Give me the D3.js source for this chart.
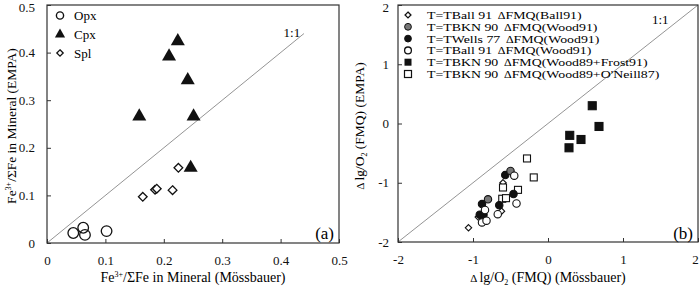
<!DOCTYPE html>
<html><head><meta charset="utf-8">
<script src="https://cdn.jsdelivr.net/npm/d3@7"></script>
<style>body{margin:0;background:#fff}svg{display:block;font-family:"Liberation Serif","Times New Roman",serif}</style>
</head><body><svg id="c" width="700" height="286"></svg>
<script>
// ---- Panel (a) data: [Mössbauer, EMPA] ----
const opx = [[0.045,0.021],[0.062,0.032],[0.065,0.017],[0.102,0.025]];
const cpx = [[0.224,0.424],[0.209,0.392],[0.241,0.342],[0.158,0.266],[0.251,0.266],[0.246,0.158]];
const spl = [[0.164,0.097],[0.185,0.112],[0.188,0.114],[0.215,0.111],[0.225,0.158]];
const aTicks = [0,0.1,0.2,0.3,0.4,0.5];
const aLegend = ["Opx","Cpx","Spl"];

// ---- Panel (b) data: [Mössbauer, EMPA] ----
const bBall91 = [[-1.06,-1.76],[-0.93,-1.58],[-0.62,-1.48],[-0.60,-1.00]];
const bBKN90 = [[-0.50,-0.80],[-0.80,-1.28]];
const bWells77 = [[-0.57,-0.87],[-0.46,-1.19],[-0.65,-1.38],[-0.88,-1.36],[-0.91,-1.54],[-0.86,-1.54]];
const bBall91W = [[-0.45,-0.88],[-0.42,-1.35],[-0.67,-1.53],[-0.84,-1.46],[-0.88,-1.67],[-0.82,-1.64]];
const bFrost = [[0.59,0.30],[0.68,-0.05],[0.29,-0.20],[0.44,-0.27],[0.28,-0.41]];
const bONeill = [[-0.28,-0.59],[-0.19,-0.91],[-0.60,-1.08],[-0.40,-1.12],[-0.61,-1.27],[-0.56,-1.26]];
const bTicks = [-2,-1,0,1,2];
const bLegend = [
  ["T=TBall 91","ΔFMQ(Ball91)"],
  ["T=TBKN 90","ΔFMQ(Wood91)"],
  ["T=TWells 77","ΔFMQ(Wood91)"],
  ["T=TBall 91","ΔFMQ(Wood91)"],
  ["T=TBKN 90","ΔFMQ(Wood89+Frost91)"],
  ["T=TBKN 90","ΔFMQ(Wood89+O'Neill87)"]
];

const svg = d3.select("#c");
const FS = 13;

function frame(g, x, y, xt, yt, ypad){
  const [x0,x1] = x.range(), [y0,y1] = y.range();
  g.append("g").attr("transform",`translate(0,${y0})`)
    .call(d3.axisBottom(x).tickValues(xt).tickSizeInner(-4).tickSizeOuter(0).tickPadding(13).tickFormat(d=>String(d)))
    .call(s=>{s.select(".domain").remove();s.selectAll("text").attr("font-size",FS).attr("font-family","Liberation Serif").attr("fill","#111");s.selectAll("line").attr("stroke","#333");
      s.selectAll(".tick").filter(d=>d===xt[xt.length-1]).select("text").attr("dx",x1>690?-3:0);});
  g.append("g").attr("transform",`translate(${x0},0)`)
    .call(d3.axisLeft(y).tickValues(yt).tickSizeInner(-4).tickSizeOuter(0).tickPadding(ypad).tickFormat(d=>String(d)))
    .call(s=>{s.select(".domain").remove();s.selectAll("text").attr("font-size",FS).attr("font-family","Liberation Serif").attr("fill","#111");s.selectAll("line").attr("stroke","#333");
      s.selectAll(".tick").filter(d=>d===yt[yt.length-1]).select("text").attr("y",2);});
  g.append("rect").attr("x",x0).attr("y",y1).attr("width",x1-x0).attr("height",y0-y1)
    .attr("fill","none").attr("stroke","#333").attr("stroke-width",1.2);
}

// ================= Panel (a) =================
const xa = d3.scaleLinear().domain([0,0.5]).range([47,339]);
const ya = d3.scaleLinear().domain([0,0.5]).range([243,5]);
const ga = svg.append("g");
ga.append("line").attr("x1",xa(0)).attr("y1",ya(0)).attr("x2",xa(0.44)).attr("y2",ya(0.44))
  .attr("stroke","#888").attr("stroke-width",0.9);
ga.append("text").attr("x",xa(0.405)).attr("y",ya(0.442)+4).attr("font-size",FS).text("1:1");

const sym = (t,s)=>d3.symbol().type(t).size(s)();
ga.selectAll(".opx").data(opx).join("circle").attr("cx",d=>xa(d[0])).attr("cy",d=>ya(d[1])).attr("r",5.3)
  .attr("fill","none").attr("stroke","#111").attr("stroke-width",1.3);
ga.selectAll(".spl").data(spl).join("path").attr("d",sym(d3.symbolDiamond2,48))
  .attr("transform",d=>`translate(${xa(d[0])},${ya(d[1])})`).attr("fill","#fff").attr("stroke","#111").attr("stroke-width",1.3);
ga.selectAll(".cpx").data(cpx).join("path").attr("d",sym(d3.symbolTriangle,85))
  .attr("transform",d=>`translate(${xa(d[0])},${ya(d[1])})`).attr("fill","#111");

frame(ga, xa, ya, aTicks, aTicks, 12);

// legend a
const la = ga.append("g");
const laY = [15.5,34.5,53];
la.append("circle").attr("cx",60).attr("cy",laY[0]).attr("r",3.6).attr("fill","none").attr("stroke","#111").attr("stroke-width",1.4);
la.append("path").attr("d",sym(d3.symbolTriangle,45)).attr("transform",`translate(60,${laY[1]})`).attr("fill","#111");
la.append("path").attr("d",sym(d3.symbolDiamond2,26)).attr("transform",`translate(60,${laY[2]})`).attr("fill","#fff").attr("stroke","#111").attr("stroke-width",1.3);
la.selectAll("text").data(aLegend).join("text").attr("x",74).attr("y",(d,i)=>laY[i]+4.5).attr("font-size",FS).text(d=>d);

ga.append("text").attr("x",334).attr("y",239).attr("text-anchor","end").attr("font-size",17).text("(a)");

// axis titles a
const xta = ga.append("text").attr("x",193).attr("y",282).attr("text-anchor","middle").attr("font-size",14);
xta.append("tspan").text("Fe");
xta.append("tspan").attr("font-size",8).attr("dy",-5).text("3+");
xta.append("tspan").attr("dy",5).text("/ΣFe in Mineral (Mössbauer)");
const yta = ga.append("text").attr("transform","translate(16,126) rotate(-90)").attr("text-anchor","middle").attr("font-size",13.5);
yta.append("tspan").text("Fe");
yta.append("tspan").attr("font-size",8).attr("dy",-5).text("3+");
yta.append("tspan").attr("dy",5).text("/ΣFe in Mineral (EMPA)");

// ================= Panel (b) =================
const xb = d3.scaleLinear().domain([-2,2]).range([398,698]);
const yb = d3.scaleLinear().domain([-2,2]).range([242,5]);
const gb = svg.append("g");
gb.append("line").attr("x1",xb(-2)).attr("y1",yb(-2)).attr("x2",xb(2)).attr("y2",yb(2))
  .attr("stroke","#888").attr("stroke-width",0.9);
gb.append("text").attr("x",652).attr("y",24).attr("font-size",FS).text("1:1");

const R = 3.7;
function circles(data, fill){
  gb.append("g").selectAll("circle").data(data).join("circle").attr("cx",d=>xb(d[0])).attr("cy",d=>yb(d[1])).attr("r",R)
    .attr("fill",fill).attr("stroke","#111").attr("stroke-width",1.1);
}
function squares(data, fill, s){
  gb.append("g").selectAll("rect").data(data).join("rect").attr("x",d=>xb(d[0])-s/2).attr("y",d=>yb(d[1])-s/2)
    .attr("width",s).attr("height",s).attr("fill",fill).attr("stroke","#111").attr("stroke-width",1.1);
}
function diamonds(data){
  gb.append("g").selectAll("path").data(data).join("path").attr("d",sym(d3.symbolDiamond2,26))
    .attr("transform",d=>`translate(${xb(d[0])},${yb(d[1])})`).attr("fill","#fff").attr("stroke","#111").attr("stroke-width",1.1);
}
diamonds(bBall91);
squares(bONeill,"#fff",7);
circles(bWells77,"#111");
circles(bBKN90,"#777");
circles(bBall91W,"#fff");
squares(bFrost,"#111",8);

frame(gb, xb, yb, bTicks, bTicks, 9);

// legend b
const lbY = [15,26.8,38.6,50.4,62.2,74];
const lm = gb.append("g");
lm.append("path").attr("d",sym(d3.symbolDiamond2,22)).attr("transform",`translate(408,${lbY[0]})`).attr("fill","#fff").attr("stroke","#111").attr("stroke-width",1.3);
lm.append("circle").attr("cx",408).attr("cy",lbY[1]).attr("r",3.4).attr("fill","#777").attr("stroke","#111");
lm.append("circle").attr("cx",408).attr("cy",lbY[2]).attr("r",3.4).attr("fill","#111").attr("stroke","#111");
lm.append("circle").attr("cx",408).attr("cy",lbY[3]).attr("r",3.4).attr("fill","#fff").attr("stroke","#111").attr("stroke-width",1.3);
lm.append("rect").attr("x",404.5).attr("y",lbY[4]-3.5).attr("width",7).attr("height",7).attr("fill","#111");
lm.append("rect").attr("x",404.5).attr("y",lbY[5]-3.5).attr("width",7).attr("height",7).attr("fill","#fff").attr("stroke","#111").attr("stroke-width",1.2);
const lt = gb.append("g").selectAll("text").data(bLegend).join("text")
  .attr("transform",(d,i)=>`translate(427,${lbY[i]+4}) scale(1.26,1)`).attr("font-size",11);
lt.append("tspan").text(d=>d[0]);
lt.append("tspan").attr("dx",4.5).attr("font-size",9.5).text("Δ");
lt.append("tspan").text(d=>d[1].slice(1));

gb.append("text").attr("x",693).attr("y",239).attr("text-anchor","end").attr("font-size",17).text("(b)");

function lgTitle(t, suffix){
  t.append("tspan").attr("font-size",11).text("Δ ");
  t.append("tspan").text("lg/O");
  t.append("tspan").attr("font-size",8).attr("dy",3).text("2");
  t.append("tspan").attr("dy",-3).text(" (FMQ) "+suffix);
}
lgTitle(gb.append("text").attr("x",548).attr("y",282).attr("text-anchor","middle").attr("font-size",14), "(Mössbauer)");
lgTitle(gb.append("text").attr("transform","translate(364,126) rotate(-90)").attr("text-anchor","middle").attr("font-size",13.5), "(EMPA)");
</script></body></html>
